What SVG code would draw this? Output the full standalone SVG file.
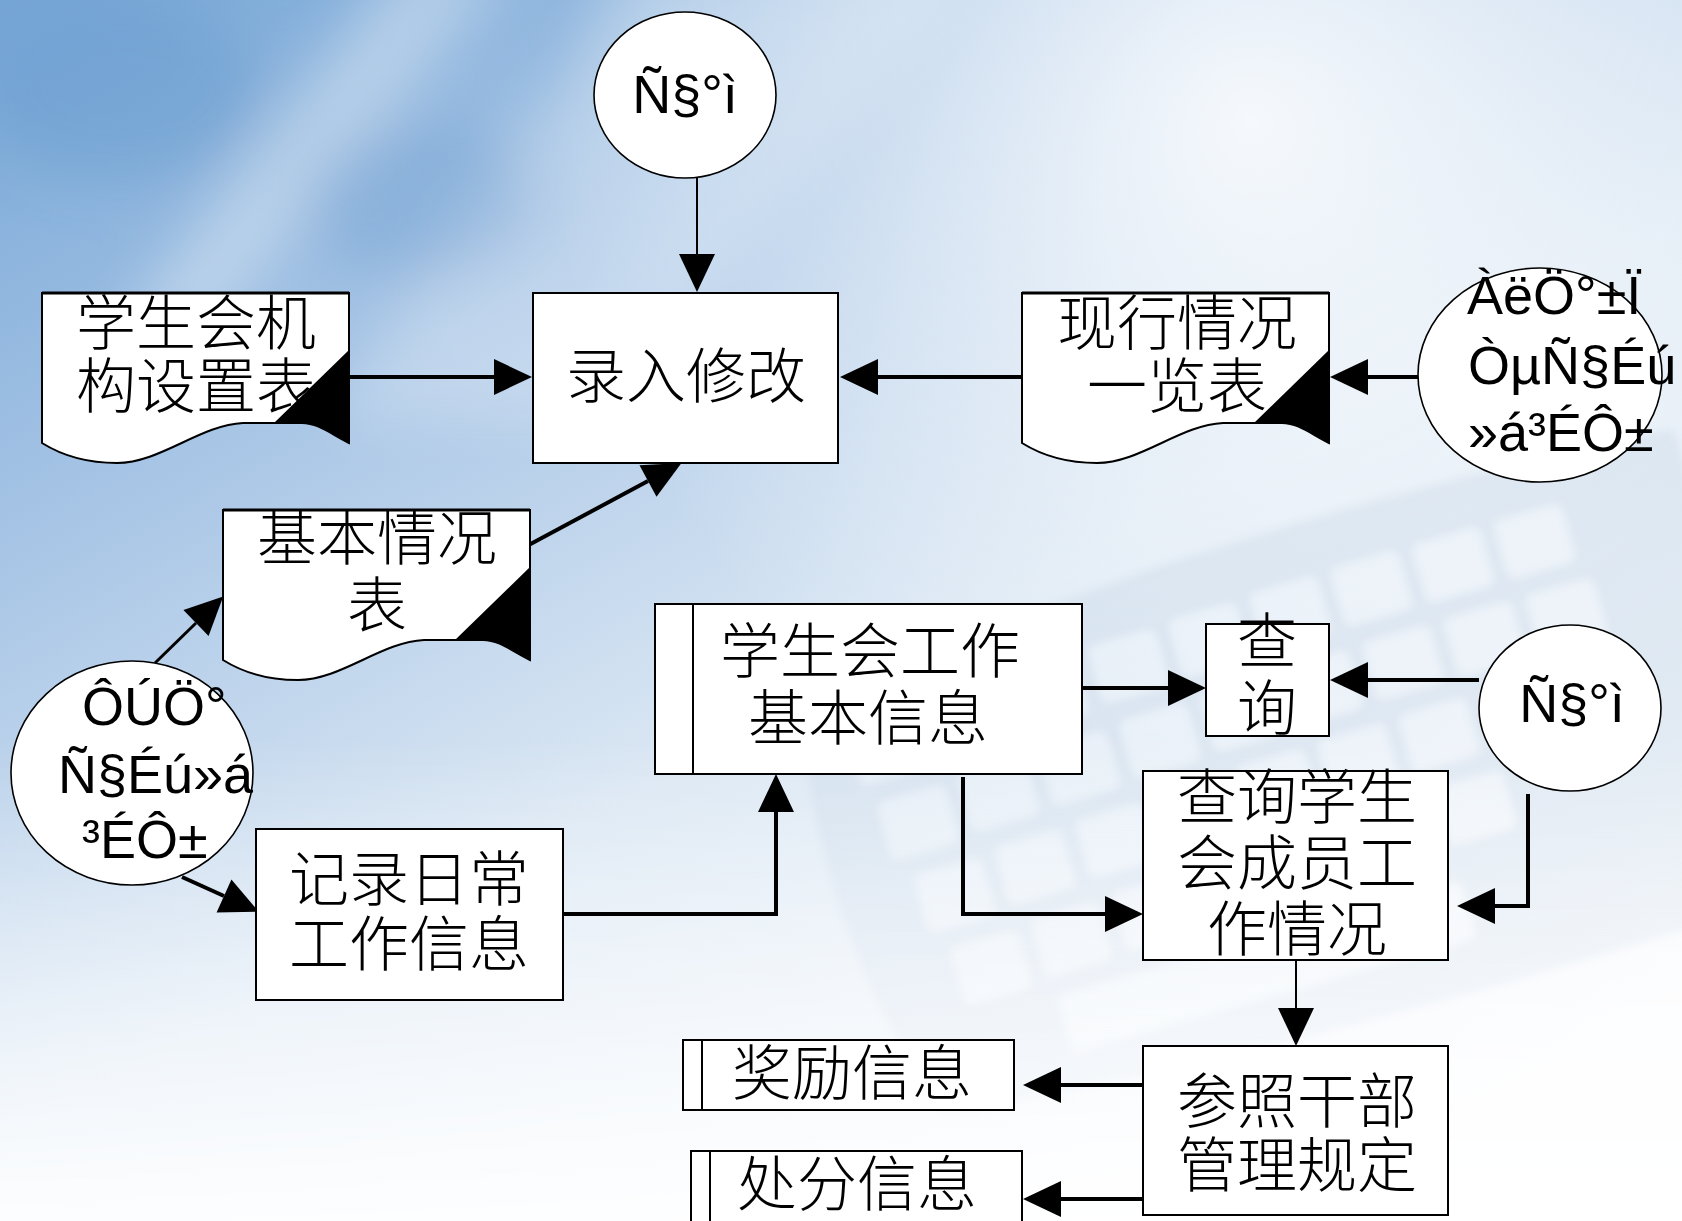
<svg xmlns="http://www.w3.org/2000/svg" width="1682" height="1221" viewBox="0 0 1682 1221">
<style>
.box{fill:#fff;stroke:#000;stroke-width:2}
.circ{fill:#fff;stroke:#000;stroke-width:1.6}
.doc{fill:#fff;stroke:#000;stroke-width:2}
.cn{font-family:"Liberation Sans","Noto Sans CJK SC","Noto Sans CJK TC",sans-serif;font-size:60px;font-weight:300;text-anchor:middle;fill:#000}
.lt{font-family:"Liberation Sans",Arial,sans-serif;font-size:54px;fill:#000}
.c{text-anchor:middle}
.w4{fill:none;stroke:#000;stroke-width:4}
.w3{fill:none;stroke:#000;stroke-width:3}
.w2{fill:none;stroke:#000;stroke-width:2}
</style>
<defs>
<linearGradient id="bg" x1="0" y1="0" x2="0.75" y2="1">
<stop offset="0" stop-color="#76a6d6"/>
<stop offset="0.3" stop-color="#a9c6e6"/>
<stop offset="0.6" stop-color="#dce8f4"/>
<stop offset="1" stop-color="#fbfcfe"/>
</linearGradient>
<radialGradient id="glow" cx="1250" cy="120" r="700" gradientUnits="userSpaceOnUse">
<stop offset="0" stop-color="#ffffff" stop-opacity="0.85"/>
<stop offset="1" stop-color="#ffffff" stop-opacity="0"/>
</radialGradient>
<linearGradient id="fadeB" x1="0" y1="0" x2="0" y2="1">
<stop offset="0.6" stop-color="#ffffff" stop-opacity="0"/>
<stop offset="1" stop-color="#ffffff" stop-opacity="0.9"/>
</linearGradient>
<filter id="soft" x="-30%" y="-30%" width="160%" height="160%"><feGaussianBlur stdDeviation="28"/></filter>
<filter id="soft2" x="-10%" y="-10%" width="120%" height="120%"><feGaussianBlur stdDeviation="4"/></filter>
<marker id="ah" markerUnits="userSpaceOnUse" markerWidth="40" markerHeight="38" refX="0" refY="18" orient="auto" overflow="visible">
<path d="M0,0 L38,18 L0,36 Z" fill="#000"/>
</marker>
<path id="docBody" d="M0,0 H307 V150 C289,141 276,130 260,130 H201 C158,132 118,170 75,170 C42,170 16,160 0,150 Z"/>
<path id="docCorner" d="M307,57 L232,130 H260 C276,130 289,141 307,150 Z"/>
</defs>

<g id="background">
<rect width="1682" height="1221" fill="url(#bg)"/>
<rect width="1682" height="1221" fill="url(#glow)"/>
<g filter="url(#soft)">
<path d="M400,-40 L520,-40 L210,330 L120,330 Z" fill="#ffffff" opacity="0.35"/>
<path d="M640,-40 L980,-40 L600,420 L330,420 Z" fill="#ffffff" opacity="0.25"/>
<ellipse cx="120" cy="90" rx="140" ry="90" fill="#5e94cc" opacity="0.35"/>
<ellipse cx="420" cy="200" rx="120" ry="80" fill="#5e94cc" opacity="0.25"/>
</g>
<g opacity="0.26" transform="rotate(-16 1250 800)" filter="url(#soft2)">
<path d="M840,600 Q1200,520 1760,560 L1760,1040 Q1300,1060 870,1020 Q800,820 840,600 Z" fill="#b9cbde"/>
<g fill="#f2f6fa">
<rect x="880" y="620" width="70" height="60" rx="8"/><rect x="965" y="615" width="70" height="60" rx="8"/><rect x="1050" y="612" width="70" height="60" rx="8"/><rect x="1135" y="608" width="70" height="60" rx="8"/><rect x="1220" y="605" width="70" height="60" rx="8"/><rect x="1305" y="602" width="70" height="60" rx="8"/><rect x="1390" y="600" width="70" height="60" rx="8"/><rect x="1475" y="600" width="70" height="60" rx="8"/><rect x="1560" y="600" width="70" height="60" rx="8"/>
<rect x="890" y="700" width="70" height="60" rx="8"/><rect x="975" y="695" width="70" height="60" rx="8"/><rect x="1060" y="692" width="70" height="60" rx="8"/><rect x="1145" y="688" width="70" height="60" rx="8"/><rect x="1230" y="685" width="70" height="60" rx="8"/><rect x="1315" y="682" width="70" height="60" rx="8"/><rect x="1400" y="680" width="70" height="60" rx="8"/><rect x="1485" y="680" width="70" height="60" rx="8"/><rect x="1570" y="680" width="70" height="60" rx="8"/>
<rect x="905" y="780" width="70" height="60" rx="8"/><rect x="990" y="775" width="70" height="60" rx="8"/><rect x="1075" y="772" width="70" height="60" rx="8"/><rect x="1160" y="768" width="70" height="60" rx="8"/><rect x="1245" y="765" width="70" height="60" rx="8"/><rect x="1330" y="762" width="70" height="60" rx="8"/><rect x="1415" y="760" width="70" height="60" rx="8"/><rect x="1500" y="760" width="70" height="60" rx="8"/>
<rect x="920" y="860" width="70" height="60" rx="8"/><rect x="1005" y="855" width="70" height="60" rx="8"/><rect x="1090" y="852" width="70" height="60" rx="8"/><rect x="1175" y="848" width="70" height="60" rx="8"/><rect x="1260" y="845" width="70" height="60" rx="8"/><rect x="1345" y="842" width="70" height="60" rx="8"/><rect x="1430" y="840" width="70" height="60" rx="8"/>
<rect x="1010" y="935" width="420" height="60" rx="8"/>
</g>
</g>
<rect width="1682" height="1221" fill="url(#fadeB)"/>
</g>

<g id="connectors">
<path class="w2" d="M697,178 V254" marker-end="url(#ah)"/>
<path class="w4" d="M349,377 H494" marker-end="url(#ah)"/>
<path class="w4" d="M1022,377 H878" marker-end="url(#ah)"/>
<path class="w4" d="M1428,377 H1368" marker-end="url(#ah)"/>
<path class="w4" d="M525,547 L648,481" marker-end="url(#ah)"/>
<path class="w3" d="M155,663 L196,623" marker-end="url(#ah)"/>
<path class="w4" d="M182,877 L224,896" marker-end="url(#ah)"/>
<path class="w4" d="M563,914 H776 V812" marker-end="url(#ah)"/>
<path class="w4" d="M1082,688 H1168" marker-end="url(#ah)"/>
<path class="w4" d="M1479,680 H1368" marker-end="url(#ah)"/>
<path class="w4" d="M963,777 V914 H1105" marker-end="url(#ah)"/>
<path class="w4" d="M1528,794 V906 H1495" marker-end="url(#ah)"/>
<path class="w2" d="M1296,960 V1008" marker-end="url(#ah)"/>
<path class="w4" d="M1147,1085 H1061" marker-end="url(#ah)"/>
<path class="w4" d="M1147,1199 H1061" marker-end="url(#ah)"/>
</g>

<g id="node-user-top">
<ellipse class="circ" cx="685" cy="95" rx="91" ry="83"/>
<text class="lt c" x="685" y="113">Ñ§°ì</text>
</g>

<g id="node-luru">
<rect class="box" x="533" y="293" width="305" height="170"/>
<text class="cn" x="686" y="398">录入修改</text>
</g>

<g id="node-doc-jigou">
<use href="#docBody" x="42" y="293" class="doc"/>
<use href="#docCorner" x="42" y="293" fill="#000"/>
<line x1="42" y1="293" x2="349" y2="293" stroke="#000" stroke-width="3"/>
<text class="cn" x="196" y="345">学生会机<tspan x="196" dy="63">构设置表</tspan></text>
</g>

<g id="node-doc-xianxing">
<use href="#docBody" x="1022" y="293" class="doc"/>
<use href="#docCorner" x="1022" y="293" fill="#000"/>
<line x1="1022" y1="293" x2="1329" y2="293" stroke="#000" stroke-width="3"/>
<text class="cn" x="1177" y="345">现行情况<tspan x="1177" dy="63">一览表</tspan></text>
</g>

<g id="node-graduate">
<ellipse class="circ" cx="1540" cy="375" rx="122" ry="107"/>
<text class="lt" x="1467" y="314">ÀëÖ°±Ï<tspan x="1468" dy="70">ÒµÑ§Éú</tspan><tspan x="1468" dy="67">»á³ÉÔ±</tspan></text>
</g>

<g id="node-doc-jiben">
<use href="#docBody" x="223" y="510" class="doc"/>
<use href="#docCorner" x="223" y="510" fill="#000"/>
<line x1="223" y1="510" x2="530" y2="510" stroke="#000" stroke-width="3"/>
<text class="cn" x="377" y="560">基本情况<tspan x="377" dy="67">表</tspan></text>
</g>

<g id="node-member">
<ellipse class="circ" cx="132" cy="773" rx="121" ry="112"/>
<text class="lt" x="82" y="725">ÔÚÖ°<tspan x="58" dy="68">Ñ§Éú»á</tspan><tspan x="82" dy="65">³ÉÔ±</tspan></text>
</g>

<g id="node-jilu">
<rect class="box" x="256" y="829" width="307" height="171"/>
<text class="cn" x="409" y="901">记录日常<tspan x="409" dy="65">工作信息</tspan></text>
</g>

<g id="node-store-work">
<rect class="box" x="655" y="604" width="427" height="170"/>
<line x1="693" y1="604" x2="693" y2="774" stroke="#000" stroke-width="2"/>
<text class="cn" x="870" y="673">学生会工作<tspan x="868" dy="67">基本信息</tspan></text>
</g>

<g id="node-chaxun">
<rect class="box" x="1206" y="624" width="123" height="112"/>
<text class="cn" x="1267" y="663">查<tspan x="1267" dy="67">询</tspan></text>
</g>

<g id="node-user-right">
<ellipse class="circ" cx="1570" cy="708" rx="91" ry="83"/>
<text class="lt c" x="1572" y="722">Ñ§°ì</text>
</g>

<g id="node-query-member">
<rect class="box" x="1143" y="771" width="305" height="189"/>
<text class="cn" x="1297" y="819">查询学生<tspan x="1297" dy="66">会成员工</tspan><tspan x="1297" dy="66">作情况</tspan></text>
</g>

<g id="node-rules">
<rect class="box" x="1143" y="1046" width="305" height="169"/>
<text class="cn" x="1297" y="1123">参照干部<tspan x="1297" dy="64">管理规定</tspan></text>
</g>

<g id="node-store-reward">
<rect class="box" x="683" y="1040" width="331" height="70"/>
<line x1="702" y1="1040" x2="702" y2="1110" stroke="#000" stroke-width="2"/>
<text class="cn" x="852" y="1095">奖励信息</text>
</g>

<g id="node-store-punish">
<rect class="box" x="691" y="1151" width="331" height="100"/>
<line x1="710" y1="1151" x2="710" y2="1251" stroke="#000" stroke-width="2"/>
<text class="cn" x="857" y="1206">处分信息</text>
</g>
</svg>
